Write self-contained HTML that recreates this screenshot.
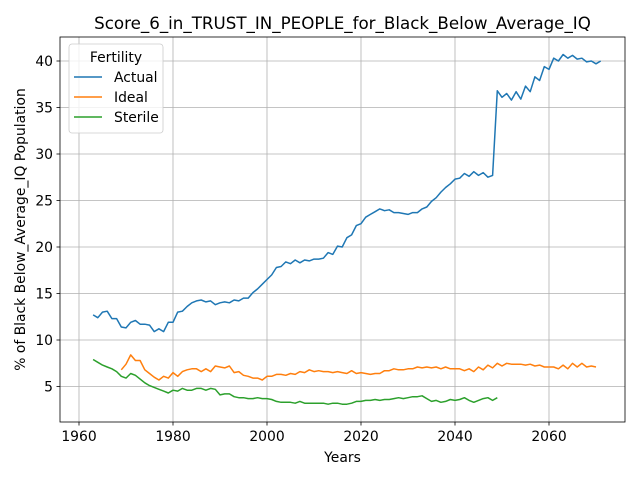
<!DOCTYPE html>
<html><head><meta charset="utf-8"><style>
body{margin:0;background:#fff;}
text{font-family:"DejaVu Sans","Liberation Sans",sans-serif;}
</style></head><body>
<svg id="chart" width="640" height="480" xmlns="http://www.w3.org/2000/svg">
<rect width="640" height="480" fill="#fff"/>
<g id="grid"></g><g id="series"></g><g id="axes"></g>
</svg>
<script>
const actualStart = 1963;
const actualValues = [12.7,12.4,13.0,13.1,12.3,12.3,11.4,11.3,11.9,12.1,11.7,11.7,11.6,10.9,11.2,10.9,11.9,11.9,13.0,13.1,13.6,14.0,14.2,14.3,14.1,14.2,13.8,14.0,14.1,14.0,14.3,14.2,14.5,14.5,15.1,15.5,16.0,16.5,17.0,17.8,17.9,18.4,18.2,18.6,18.3,18.6,18.5,18.7,18.7,18.8,19.4,19.2,20.1,20.0,21.0,21.3,22.3,22.5,23.2,23.5,23.8,24.1,23.9,24.0,23.7,23.7,23.6,23.5,23.7,23.7,24.1,24.3,24.9,25.3,25.9,26.4,26.8,27.3,27.4,27.9,27.6,28.1,27.7,28.0,27.5,27.7,36.8,36.1,36.5,35.8,36.7,35.9,37.3,36.7,38.3,37.9,39.4,39.1,40.3,40.0,40.7,40.3,40.6,40.2,40.3,39.9,40.0,39.7,40.0];
const idealStart = 1969;
const idealValues = [6.8,7.4,8.4,7.8,7.8,6.8,6.4,6.0,5.7,6.1,5.9,6.5,6.1,6.6,6.8,6.9,6.9,6.6,6.9,6.6,7.2,7.1,7.0,7.2,6.5,6.6,6.2,6.1,5.9,5.9,5.7,6.1,6.1,6.3,6.3,6.2,6.4,6.3,6.6,6.5,6.8,6.6,6.7,6.6,6.6,6.5,6.6,6.5,6.4,6.7,6.4,6.5,6.4,6.3,6.4,6.4,6.7,6.7,6.9,6.8,6.8,6.9,6.9,7.1,7.0,7.1,7.0,7.1,6.9,7.1,6.9,6.9,6.9,6.7,6.9,6.6,7.1,6.8,7.3,7.0,7.5,7.2,7.5,7.4,7.4,7.4,7.3,7.4,7.2,7.3,7.1,7.1,7.1,6.9,7.3,6.9,7.5,7.1,7.5,7.1,7.2,7.1];
const sterileStart = 1963;
const sterileValues = [7.9,7.6,7.3,7.1,6.9,6.6,6.1,5.9,6.4,6.2,5.8,5.4,5.1,4.9,4.7,4.5,4.3,4.6,4.5,4.8,4.6,4.6,4.8,4.8,4.6,4.8,4.7,4.1,4.2,4.2,3.9,3.8,3.8,3.7,3.7,3.8,3.7,3.7,3.6,3.4,3.3,3.3,3.3,3.2,3.4,3.2,3.2,3.2,3.2,3.2,3.1,3.2,3.2,3.1,3.1,3.2,3.4,3.4,3.5,3.5,3.6,3.5,3.6,3.6,3.7,3.8,3.7,3.8,3.9,3.9,4.0,3.7,3.4,3.5,3.3,3.4,3.6,3.5,3.6,3.8,3.5,3.3,3.5,3.7,3.8,3.5,3.8];
const xTicks = [1960,1980,2000,2020,2040,2060];
const yTicks = [5,10,15,20,25,30,35,40];
const seriesNames = ["Actual","Ideal","Sterile"];
const seriesColors = ["#1f77b4","#ff7f0e","#2ca02c"];

const L=60,R=625,T=37,B=422;
const X=y=>79+(y-1960)*4.7;
const Y=v=>433-v*9.3;
const NS="http://www.w3.org/2000/svg";
function el(tag,attrs,parent){const e=document.createElementNS(NS,tag);for(const k in attrs)e.setAttribute(k,attrs[k]);parent.appendChild(e);return e;}
const grid=document.getElementById('grid'),ser=document.getElementById('series'),ax=document.getElementById('axes');

xTicks.forEach(t=>{
  const g=el('line',{x1:X(t),x2:X(t),y1:T,y2:B,stroke:'#b0b0b0','stroke-width':0.8},grid);
  
  
  el('line',{x1:X(t),x2:X(t),y1:B,y2:B+3.5,stroke:'#000','stroke-width':0.8},ax);
  const tx=el('text',{x:X(t),y:B+19,'text-anchor':'middle','font-size':13.9},ax);
  tx.textContent=t;
  
  
});
yTicks.forEach(t=>{
  const g=el('line',{x1:L,x2:R,y1:Y(t),y2:Y(t),stroke:'#b0b0b0','stroke-width':0.8},grid);
  
  
  el('line',{x1:L-3.5,x2:L,y1:Y(t),y2:Y(t),stroke:'#000','stroke-width':0.8},ax);
  const tx=el('text',{x:L-7,y:Y(t)+5,'text-anchor':'end','font-size':13.9},ax);
  tx.textContent=t;
  
  
});
const frame=el('rect',{x:L,y:T,width:R-L,height:B-T,fill:'none',stroke:'#000','stroke-width':0.8},ax);



const allSeries=[[actualStart,actualValues],[idealStart,idealValues],[sterileStart,sterileValues]];
allSeries.forEach((s,i)=>{
  const pts=s[1].map((v,j)=>X(s[0]+j).toFixed(1)+','+Y(v).toFixed(1)).join(' ');
  const p=el('polyline',{points:pts,fill:'none',stroke:seriesColors[i],'stroke-width':1.5,'stroke-linejoin':'round'},ser);
  
  
});

const title=el('text',{x:342.5,y:29,'text-anchor':'middle','font-size':16.7},ax);
title.textContent='Score_6_in_TRUST_IN_PEOPLE_for_Black_Below_Average_IQ';


const xl=el('text',{x:342.5,y:462,'text-anchor':'middle','font-size':13.9},ax);
xl.textContent='Years';


const yl=el('text',{x:0,y:0,'text-anchor':'middle','font-size':13.9,transform:'translate(25,229.5) rotate(-90)'},ax);
yl.textContent='% of Black Below_Average_IQ Population';



const lg=el('g',{},ax);


el('rect',{x:69,y:44,width:94,height:89,rx:3,fill:'#fff','fill-opacity':0.8,stroke:'#cccccc','stroke-width':0.8},lg);
const lt=el('text',{x:116,y:62,'text-anchor':'middle','font-size':13.9},lg);
lt.textContent='Fertility';
seriesNames.forEach((n,i)=>{
  const yy=77+i*20;
  const ln=el('line',{x1:74,x2:102,y1:yy,y2:yy,stroke:seriesColors[i],'stroke-width':1.5},lg);
  
  
  const t=el('text',{x:114,y:yy+5,'font-size':13.9},lg);
  t.textContent=n;
  
  
});
</script>
</body></html>
